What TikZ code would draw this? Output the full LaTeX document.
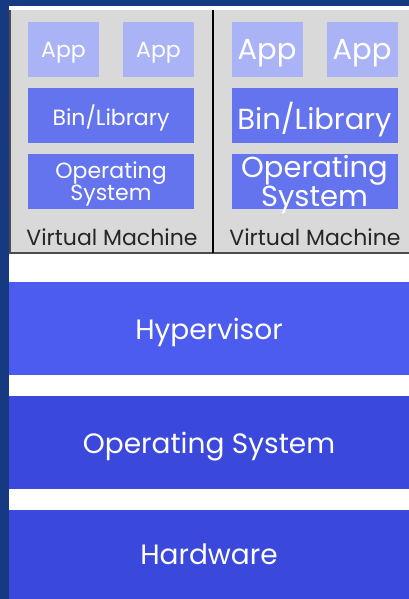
\documentclass[tikz,border=0pt]{standalone}
\usepackage{fontspec}
\setmainfont{Poppins}
\usetikzlibrary{positioning}

\definecolor{deepblue}{HTML}{163A82}
\definecolor{vmgray}{HTML}{D9D9D9}
\definecolor{applight}{HTML}{AAB3F6}
\definecolor{libblue}{HTML}{6474EE}
\definecolor{hyperblue}{HTML}{4C5CEF}
\definecolor{baseblue}{HTML}{3A49DC}

\tikzset{
  block/.style={inner sep=0pt,text=white,align=center,text depth=0pt,font=\fontsize{22}{19}\selectfont},
  appbox/.style={block,fill=applight,minimum width=71pt,minimum height=55pt},
  libbox/.style={block,fill=libblue,minimum width=166pt,minimum height=55pt},
  bigtext/.style={font=\fontsize{29}{24}\selectfont},
  layer/.style={inner sep=0pt,text=white,text depth=0pt,minimum width=400pt,font=\fontsize{28}{28}\selectfont},
  vmlabel/.style={text=black!85,font=\fontsize{22}{22}\selectfont}
}

\begin{document}
\begin{tikzpicture}[x=1pt,y=-1pt]
  \useasboundingbox (0,0) rectangle (409,599);
  \fill[deepblue] (0,0) rectangle (409,599);
  \fill[white] (9,6) rectangle (409,599);

  % the two guest machines
  \fill[vmgray] (10,10) rectangle (409,253);
  \draw[black!70,line width=1.2pt] (10,10) -- (10,253) -- (409,253);
  \draw[black,line width=1.5pt] (213,10) -- (213,253);

  % left guest
  \node[appbox] (lapp1) at (63.5,49.5) {App};
  \node[appbox] (lapp2) at (158.5,49.5) {App};
  \node[libbox] (llib) at (111,115.5) {Bin/Library};
  \node[libbox] (los) at (111,181) {Operating\\System};
  \node[vmlabel] (lvm) at (112,237) {Virtual Machine};

  % right guest, same stack with larger text
  \node[appbox,bigtext] (rapp1) at (267,49.5) {App};
  \node[appbox,bigtext] (rapp2) at (362,49.5) {App};
  \node[libbox,bigtext] (rlib) at (314.5,115.5) {Bin/Library};
  \node[libbox,bigtext] (ros) at (314.5,181) {Operating\\System};
  \node[vmlabel] (rvm) at (315,237) {Virtual Machine};

  % host layers
  \node[layer,fill=hyperblue,minimum height=93pt] (hyp) at (209,328.5) {Hypervisor};
  \node[layer,fill=baseblue,minimum height=93pt] (hos) at (209,442.5) {Operating System};
  \node[layer,fill=baseblue,minimum height=89pt] (hw) at (209,554.5) {Hardware};
\end{tikzpicture}
\end{document}
